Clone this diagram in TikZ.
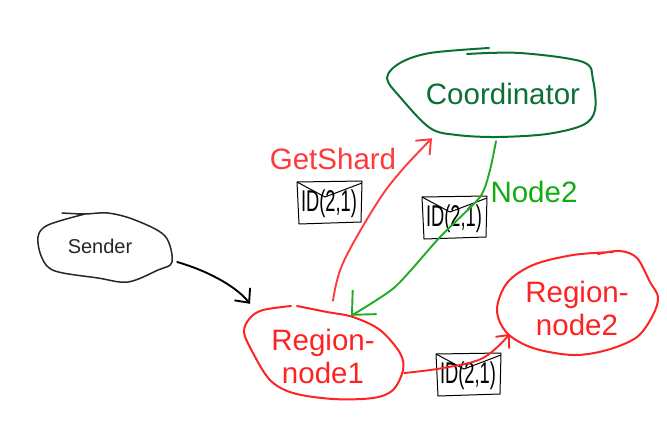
\documentclass[tikz,border=0pt]{standalone}
\usepackage{fontspec}
\setmainfont{Liberation Sans}
\usetikzlibrary{arrows.meta,calc}
\definecolor{coordgreen}{HTML}{0B7033}
\definecolor{msgred}{HTML}{FF2222}
\definecolor{getred}{HTML}{FF3A3A}
\definecolor{msggreen}{HTML}{22AA22}
\definecolor{labelgreen}{HTML}{12AC12}
\begin{document}
\begin{tikzpicture}[x=1pt,y=-1pt,
  big/.style={font=\fontsize{29.5}{33}\selectfont,align=center,inner sep=0pt},
  blob/.style={line width=2pt,line cap=round,line join=round},
  msg/.style={line width=1.9pt,line cap=round,line join=round},
  envelope/.pic={
    \draw[line width=1pt,line join=round] (-33,-21)--(32,-22)--(31,19)--(-31,21)--cycle;
    \draw[line width=1pt] (-33,-21)--(-5,-6)--(32,-20);
    \node[inner sep=0pt,xscale=.61,font=\fontsize{30}{33}\selectfont] (-label) at (-1,1) {ID(2,1)};
  }]
  \useasboundingbox (0,0) rectangle (667,445);
  % labels
  \node[big,text=coordgreen,minimum width=232pt,minimum height=92pt](coordinator) at (503,94){Coordinator};
  \node[font=\fontsize{20}{24}\selectfont,text=black!85,inner sep=0pt,minimum width=154pt,minimum height=72pt](sender) at (100,246){Sender};
  \node[big,text=msgred,minimum width=162pt,minimum height=110pt](region1) at (323,356){Region-\\node1};
  \node[big,text=msgred,minimum width=162pt,minimum height=108pt](region2) at (577,308){Region-\\node2};
  \node[big,text=getred](getshard) at (333,159){GetShard};
  \node[big,text=labelgreen](node2) at (534,192){Node2};
  % blobs
  \draw[blob,coordgreen] plot[smooth,tension=.55] coordinates {(489,48)(430,53)(400,63)(387,78)(400,97)(430,128)(457,135)(497,137)(547,134)(583,125)(595,110)(593,80)(583,62)(520,53)(467,54)};
  \draw[blob,black!85,line width=1.5pt] plot[smooth,tension=.55] coordinates {(62,213)(85,214)(108,213)(135,220)(165,236)(172,262)(158,270)(128,282)(98,278)(55,271)(42,258)(38,237)(48,225)(85,214)};
  \draw[blob,msgred] plot[smooth,tension=.55] coordinates {(291,306)(263,310)(250,318)(244,332)(253,353)(270,380)(293,393)(333,399)(373,398)(393,390)(403,370)(400,353)(380,330)(353,317)(327,312)(297,306)};
  \draw[blob,msgred] plot[smooth,tension=.55] coordinates {(598,254)(620,251)(637,258)(650,282)(658,297)(653,315)(637,337)(607,350)(573,355)(533,348)(507,333)(497,310)(507,283)(533,265)(573,255)(613,252)};
  % envelopes
  \pic (env1) at (330,203) {envelope};
  \pic (env2) at (455,218) {envelope};
  \pic (env3) at (469,375) {envelope};
  % connectors
  \coordinate(s0) at ($(sender.east)+(0,16)$);
  \coordinate(s1) at ($(region1.north)+(-73,3)$);
  \coordinate(g0) at ($(region1.north)+(10,0)$);
  \coordinate(g1) at ($(coordinator.south)+(-71,-2)$);
  \coordinate(n0) at ($(coordinator.south)+(-7,1)$);
  \coordinate(n1) at ($(region1.north)+(28,15)$);
  \coordinate(f0) at ($(region1.east)+(0,17)$);
  \coordinate(f1) at ($(region2.west)+(14,26)$);
  \draw[msg,black,-{Straight Barb[length=11pt,width=20pt]}] (s0) .. controls (205,270) and (235,285) .. (s1);
  \draw[msg,getred,-{Straight Barb[length=12pt,width=20pt]}] plot[smooth,tension=.6] coordinates {(g0)(343,263)(377,203)(402,170)(g1)};
  \draw[msg,msggreen] plot[smooth,tension=.4] coordinates {(n0)(490,170)(480,197)(440,237)(395,287)(n1)};
  \draw[msg,msggreen,-{Straight Barb[length=18pt,width=34pt]}] ($(n1)+(2,-2)$) -- (n1);
  \draw[msg,msgred,-{Straight Barb[length=10pt,width=18pt]}] plot[smooth,tension=.6] coordinates {(f0)(443,368)(483,358)(f1)};
\end{tikzpicture}
\end{document}
